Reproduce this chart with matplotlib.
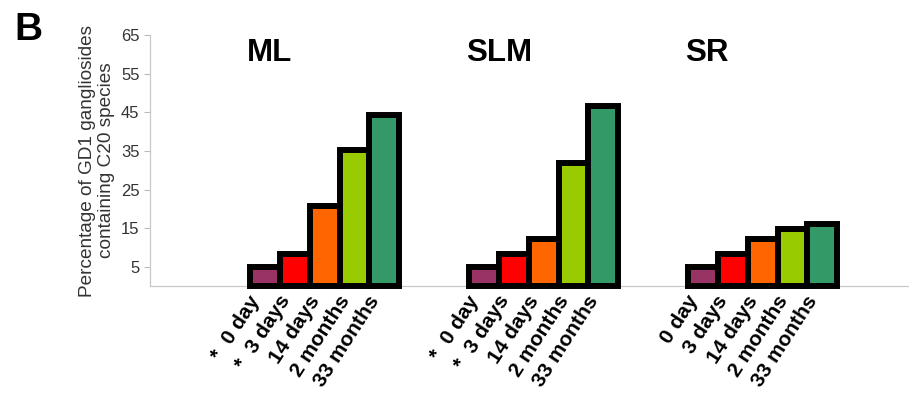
"""Panel B: share of GD1 gangliosides carrying C20 species, by region and age."""

import matplotlib

matplotlib.use("Agg")
import matplotlib.pyplot as plt
import matplotlib.transforms as mtransforms
import numpy as np

regions = ["ML", "SLM", "SR"]
ages = ["0 day", "3 days", "14 days", "2 months", "33 months"]
starred = {"ML": [0, 1], "SLM": [0, 1], "SR": []}  # ages marked with *
ml = [5.0, 8.4, 20.7, 35.3, 44.2]
slm = [5.0, 8.4, 12.3, 31.9, 46.7]
sr = [5.0, 8.4, 12.3, 14.9, 16.2]
values = {"ML": ml, "SLM": slm, "SR": sr}
colors = ["#993366", "#ff0000", "#ff6600", "#99cc00", "#339966"]
yticks = [5, 15, 25, 35, 45, 55, 65]

GROUP_STEP = 7.35
plt.rcParams["font.family"] = ["Liberation Sans", "DejaVu Sans"]


def main():
    fig = plt.figure(figsize=(9.09, 4.03), dpi=100)
    ax = fig.add_axes([0.165, 0.290, 0.835, 0.623])

    pos, labels = [], []
    for g, reg in enumerate(regions):
        x = g * GROUP_STEP + np.arange(len(ages))
        ax.bar(x, values[reg], width=1.0, color=colors, edgecolor="black",
               linewidth=4.3, clip_on=False, zorder=3)
        ax.text(x[0] - 0.6, 0.896, reg, transform=ax.get_xaxis_transform(),
                fontsize=22.5, fontweight="bold", ha="left", va="baseline")
        pos.extend(x)
        labels.extend(("*  " if i in starred[reg] else "") + a for i, a in enumerate(ages))

    ax.set_xlim(-3.86, 21.61)
    ax.set_ylim(0, 65)
    ax.set_yticks(yticks)
    ax.tick_params(axis="y", colors="#bbbbbb", labelcolor="#333333", labelsize=12,
                   length=4, width=0.8)
    ax.set_xticks(pos)
    ax.set_xticklabels(labels, rotation=57, rotation_mode="anchor", ha="right",
                       va="center", fontsize=15, fontweight="bold")
    ax.tick_params(axis="x", length=0, pad=8)
    # nudge the rotated labels left so their ends sit just right of the bar centres
    shift = mtransforms.ScaledTranslation(-0.09, 0, fig.dpi_scale_trans)
    for lab in ax.get_xticklabels():
        lab.set_transform(lab.get_transform() + shift)
    for side in ("top", "right"):
        ax.spines[side].set_visible(False)
    for side in ("left", "bottom"):
        ax.spines[side].set_color("#c8c8c8")
        ax.spines[side].set_linewidth(0.9)

    ax.set_ylabel("Percentage of GD1 gangliosides\ncontaining C20 species",
                  fontsize=13.7, color="#333333", labelpad=4, linespacing=1.2)
    fig.text(0.016, 0.90, "B", fontsize=28, fontweight="bold", ha="left", va="baseline")

    fig.savefig("out.png", dpi=100)


if __name__ == "__main__":
    main()
